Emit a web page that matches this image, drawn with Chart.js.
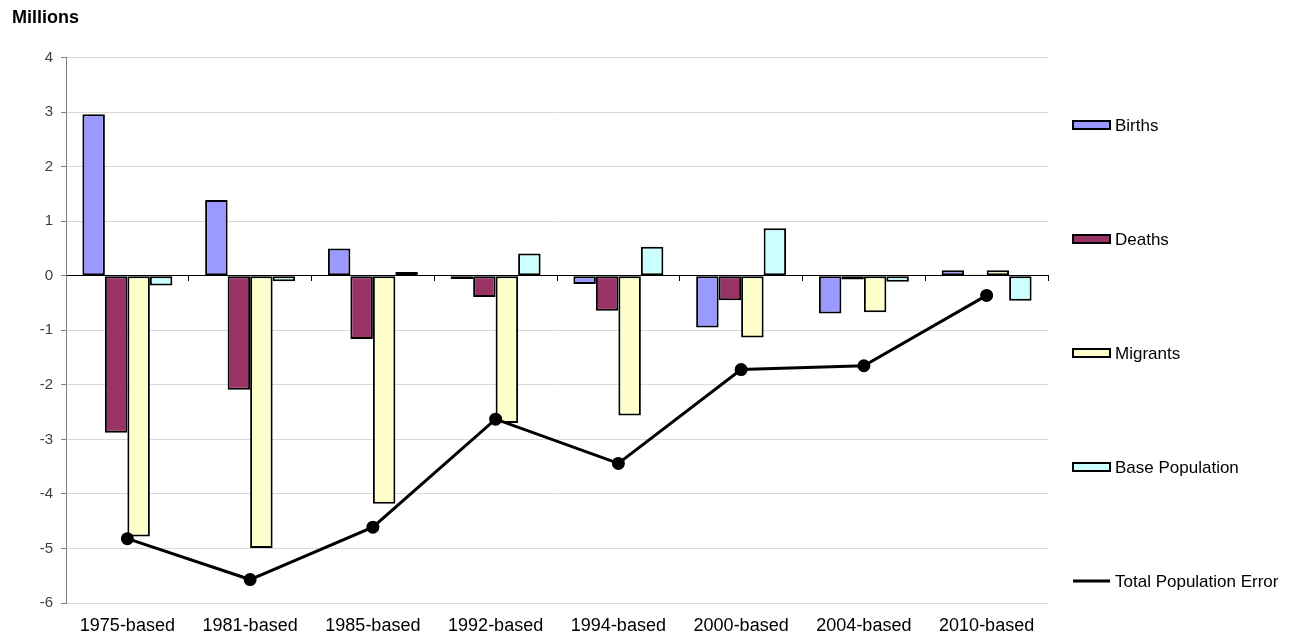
<!DOCTYPE html>
<html>
<head>
<meta charset="utf-8">
<script src="https://cdn.jsdelivr.net/npm/chart.js@4.4.1/dist/chart.umd.min.js"></script>
<style>
  html, body { margin: 0; padding: 0; background: #fff; }
  #wrap { width: 1295px; height: 635px; position: relative; }
</style>
</head>
<body>
<div id="wrap"><canvas id="grafico"></canvas></div>
<script>
const categorias = ['1975-based', '1981-based', '1985-based', '1992-based', '1994-based', '2000-based', '2004-based', '2010-based'];
const births = [2.96, 1.39, 0.50, -0.06, -0.15, -0.95, -0.69, 0.10];
const deaths = [-2.88, -2.09, -1.16, -0.39, -0.64, -0.45, -0.07, 0.02];
const migrants = [-4.78, -4.99, -4.18, -2.70, -2.56, -1.13, -0.67, 0.10];
const basePopulation = [-0.18, -0.10, 0.07, 0.41, 0.53, 0.87, -0.11, -0.46];
const totalError = [-4.82, -5.57, -4.61, -2.63, -3.44, -1.72, -1.65, -0.36];
const yTicks = [4, 3, 2, 1, 0, -1, -2, -3, -4, -5, -6];

const fonte = 'Liberation Sans, Arial, sans-serif';

function barra(label, data, cor) {
    return {
        type: 'bar',
        label: label,
        data: data,
        backgroundColor: cor,
        borderColor: '#000',
        borderWidth: 2,
        borderSkipped: false,
        categoryPercentage: 0.733,
        barPercentage: 1,
        order: 1
    };
}

// legenda vertical, com itens bem espaçados à direita do gráfico
const legendaLateral = {
    id: 'legendaLateral',
    afterDraw(chart) {
        const ctx = chart.ctx;
        const x = 1073, y0 = 125, passo = 114;
        ctx.save();
        ctx.font = '17px ' + fonte;
        ctx.textBaseline = 'middle';
        chart.data.datasets.forEach((ds, i) => {
            const y = y0 + i * passo;
            if (ds.type === 'line') {
                ctx.strokeStyle = '#000';
                ctx.lineWidth = 3;
                ctx.beginPath();
                ctx.moveTo(x, y);
                ctx.lineTo(x + 37, y);
                ctx.stroke();
            } else {
                ctx.fillStyle = ds.backgroundColor;
                ctx.fillRect(x, y - 4, 37, 8);
                ctx.strokeStyle = '#000';
                ctx.lineWidth = 2;
                ctx.strokeRect(x, y - 4, 37, 8);
            }
            ctx.fillStyle = '#000';
            ctx.fillText(ds.label, x + 42, y + 1);
        });
        ctx.restore();
    }
};

new Chart(document.getElementById('grafico'), {
    data: {
        labels: categorias,
        datasets: [
            barra('Births', births, '#9999FF'),
            barra('Deaths', deaths, '#993366'),
            barra('Migrants', migrants, '#FFFFCC'),
            barra('Base Population', basePopulation, '#CCFFFF'),
            {
                type: 'line',
                label: 'Total Population Error',
                data: totalError,
                borderColor: '#000',
                backgroundColor: '#000',
                borderWidth: 3,
                pointRadius: 5,
                pointBackgroundColor: '#000',
                pointBorderColor: '#000',
                tension: 0,
                order: -1
            }
        ]
    },
    options: {
        responsive: true,
        maintainAspectRatio: false,
        animation: false,
        layout: { padding: { left: 12, right: 247, top: 0, bottom: 0 } },
        plugins: {
            legend: { display: false },
            tooltip: { enabled: false },
            title: {
                display: true,
                text: 'Millions',
                align: 'start',
                color: '#000',
                font: { family: fonte, size: 18, weight: 'bold' },
                padding: { top: 7, bottom: 29 }
            }
        },
        scales: {
            x: {
                type: 'category',
                offset: true,
                grid: { display: false, drawTicks: false },
                border: { display: false },
                ticks: { color: '#000', font: { family: fonte, size: 18 }, padding: 12, maxRotation: 0 },
                afterFit: s => { s.height = 32; }
            },
            x2: {
                type: 'category',
                labels: categorias,
                position: { y: 0 },
                offset: true,
                grid: { offset: true, drawOnChartArea: false, drawTicks: true, tickLength: 5, tickColor: '#000', lineWidth: 1 },
                border: { color: '#000', width: 1 },
                ticks: { display: false }
            },
            y: {
                min: -6,
                max: 4,
                afterBuildTicks: s => { s.ticks = yTicks.map(v => ({ value: v })); },
                grid: {
                    color: c => c.tick && c.tick.value === 0 ? '#000' : '#d9d9d9',
                    tickColor: '#808080',
                    tickLength: 5,
                    lineWidth: 1
                },
                border: { color: '#808080', width: 1 },
                ticks: { color: '#404040', font: { family: fonte, size: 15 }, padding: 8 },
                afterFit: s => { s.width = 54; }
            }
        }
    },
    plugins: [legendaLateral]
});
</script>
</body>
</html>
